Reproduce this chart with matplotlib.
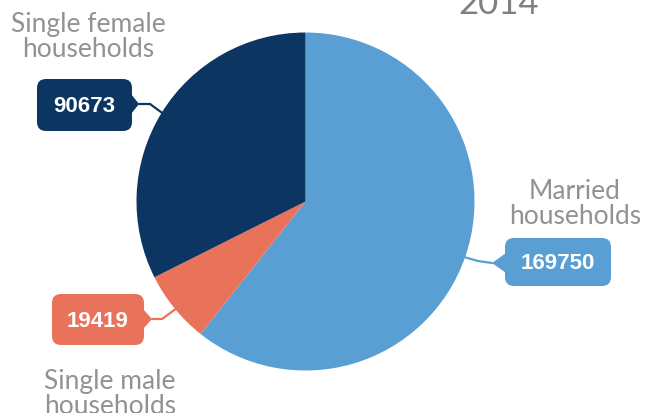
import matplotlib
matplotlib.use("Agg")
import matplotlib.pyplot as plt
from matplotlib.patches import FancyBboxPatch, Polygon

# data
categories = ["Married\nhouseholds", "Single male\nhouseholds", "Single female\nhouseholds"]
values = [169750, 19419, 90673]
colors = ["#5a9fd3", "#e8735a", "#0c3562"]
year = "2014"

fig = plt.figure(figsize=(6.46, 4.14), dpi=100)
ax = fig.add_axes([0, 0, 1, 1])

# pixel-like coordinates, y pointing down -> counterclock in data is clockwise on screen
cx, cy, r = 305.5, 202.5, 169
ax.pie(values, colors=colors, startangle=270, counterclock=True,
       center=(cx, cy), radius=r, wedgeprops=dict(linewidth=0))

ax.set_xlim(0, 646)
ax.set_ylim(414, 0)
ax.set_aspect("equal")
ax.axis("off")

label_font = dict(family=["Lato", "DejaVu Sans"], fontweight="normal", color="#929292",
                  fontsize=19, ha="center", linespacing=1.0)


def callout(x0, x1, y0, y1, tip, side, color, text, line_pts):
    box = FancyBboxPatch((x0, y0), x1 - x0, y1 - y0,
                         boxstyle="round,pad=0,rounding_size=9",
                         facecolor=color, edgecolor="none", zorder=3)
    ax.add_patch(box)
    ym = tip[1]
    bx = x1 - 1 if side == "right" else x0 + 1
    tri = Polygon([(bx, ym - 10), tip, (bx, ym + 10)], closed=True,
                  facecolor=color, edgecolor="none", zorder=3)
    ax.add_patch(tri)
    xs, ys = zip(*line_pts)
    ax.plot(xs, ys, color=color, lw=1.6, zorder=2, solid_capstyle="round")
    ax.text((x0 + x1) / 2, (y0 + y1) / 2 + 1, text, color="white", fontsize=16,
            fontweight="bold", family=["Liberation Sans", "DejaVu Sans"],
            ha="center", va="center", zorder=4)


# female
callout(37, 132, 80, 132, (139, 105), "right", colors[2], str(values[2]),
        [(139, 105), (150, 105), (165, 116)])
# married
callout(505, 611, 239, 287, (492, 264), "left", colors[0], str(values[0]),
        [(464, 258), (478, 262), (492, 264)])
# male
callout(52, 144, 295, 346, (152, 320), "right", colors[1], str(values[1]),
        [(152, 320), (162, 320), (177, 309)])

ax.text(88, 57, categories[2], va="baseline", **label_font)
ax.text(575, 224, categories[0], va="baseline", **label_font)
ax.text(110, 414, categories[1], va="baseline", **label_font)

ax.text(499, 14, year, va="baseline", family=["Lato", "DejaVu Sans"], fontweight="normal",
        color="#808080", fontsize=25, ha="center")

fig.savefig("out.png", dpi=100)
